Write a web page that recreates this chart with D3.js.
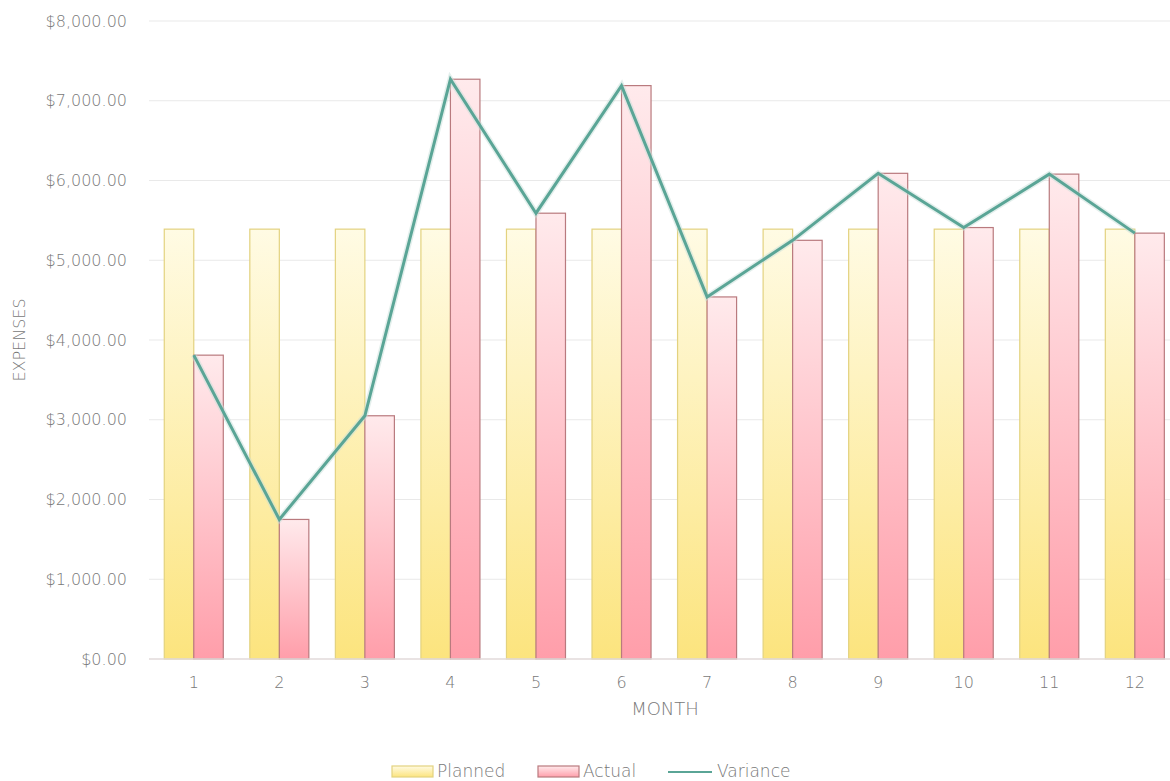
<!DOCTYPE html>
<html>
<head>
<meta charset="utf-8">
<script src="https://cdn.jsdelivr.net/npm/d3@7/dist/d3.min.js"></script>
<style>
  html, body { margin: 0; padding: 0; background: #fff; }
  svg { display: block; }
  text { font-family: "DejaVu Sans", sans-serif; fill: #787878; font-weight: 200; }
</style>
</head>
<body>
<svg id="chart" width="1170" height="781"></svg>
<script>
const months = ["1","2","3","4","5","6","7","8","9","10","11","12"];
const planned = [5390,5390,5390,5390,5390,5390,5390,5390,5390,5390,5390,5390];
const actual = [3810,1750,3050,7270,5590,7190,4540,5250,6090,5410,6080,5340];
const variance = [3810,1750,3050,7270,5590,7190,4540,5250,6090,5410,6080,5340];
const yTicks = [0,1000,2000,3000,4000,5000,6000,7000,8000];
const seriesNames = ["Planned","Actual","Variance"];

const svg = d3.select("#chart");
const defs = svg.append("defs");

function grad(id, top, bottom) {
  const g = defs.append("linearGradient").attr("id", id)
    .attr("x1", 0).attr("y1", 0).attr("x2", 0).attr("y2", 1);
  g.append("stop").attr("offset", "0%").attr("stop-color", top);
  g.append("stop").attr("offset", "100%").attr("stop-color", bottom);
}
grad("gPlanned", "#fffbe4", "#fce47e");
grad("gActual", "#ffeaec", "#ff9eaa");

const plotLeft = 151, plotRight = 1177.6, plotTop = 21, plotBottom = 659;

const x = d3.scaleBand().domain(months).range([plotLeft, plotRight])
  .paddingInner(0.31).paddingOuter(0.155);
const xSub = d3.scaleBand().domain(["Planned","Actual"]).range([0, x.bandwidth()]);
const y = d3.scaleLinear().domain([0, 8000]).range([plotBottom, plotTop]);

// grid lines
svg.append("g").selectAll("line").data(yTicks.slice(1)).join("line")
  .attr("x1", plotLeft - 2).attr("x2", 1170)
  .attr("y1", d => y(d)).attr("y2", d => y(d))
  .attr("stroke", "#e9e9e9").attr("stroke-width", 1.2);

// y axis labels
const fmt = d3.format("$,.2f");
const yAxis = d3.axisLeft(y).tickValues(yTicks).tickFormat(fmt).tickSize(0).tickPadding(0);
const yg = svg.append("g").attr("transform", "translate(127,0)").call(yAxis);
yg.select(".domain").remove();
yg.selectAll("text").style("font-size", "16px").attr("fill", "#787878")
  .style("font-family", "'DejaVu Sans', sans-serif").style("font-weight", 200);

// bars
const groups = svg.append("g").selectAll("g").data(months).join("g")
  .attr("transform", d => `translate(${x(d)},0)`);
groups.append("rect")
  .attr("x", xSub("Planned")).attr("width", xSub.bandwidth())
  .attr("y", (d, i) => y(planned[i])).attr("height", (d, i) => y(0) - y(planned[i]))
  .attr("fill", "url(#gPlanned)").attr("stroke", "#e3d27f").attr("stroke-width", 1.2);
groups.append("rect")
  .attr("x", xSub("Actual")).attr("width", xSub.bandwidth())
  .attr("y", (d, i) => y(actual[i])).attr("height", (d, i) => y(0) - y(actual[i]))
  .attr("fill", "url(#gActual)").attr("stroke", "#b97a7e").attr("stroke-width", 1.2);

// baseline
svg.append("line").attr("x1", plotLeft - 2).attr("x2", 1170)
  .attr("y1", y(0)).attr("y2", y(0)).attr("stroke", "#e2dada").attr("stroke-width", 1.5);

// x axis
const xAxis = d3.axisBottom(x).tickSize(0).tickPadding(0);
const xg = svg.append("g").attr("transform", `translate(0,${y(0) + 18})`).call(xAxis);
xg.select(".domain").remove();
xg.selectAll("text").style("font-size", "16px").attr("fill", "#787878")
  .style("font-family", "'DejaVu Sans', sans-serif").style("font-weight", 200);

// variance line
const line = d3.line().x((d, i) => x(months[i]) + x.bandwidth() / 2).y(d => y(d));
svg.append("path").datum(variance).attr("d", line)
  .attr("fill", "none").attr("stroke", "#c8e0da").attr("stroke-width", 6)
  .attr("stroke-linejoin", "miter").attr("opacity", 0.5);
svg.append("path").datum(variance).attr("d", line)
  .attr("fill", "none").attr("stroke", "#5aa596").attr("stroke-width", 3)
  .attr("stroke-linejoin", "miter");

// axis titles
svg.append("text").attr("x", 665).attr("y", 715)
  .attr("text-anchor", "middle").style("font-size", "18px").text("MONTH");
svg.append("text").attr("transform", `translate(25,${(plotTop + plotBottom) / 2}) rotate(-90)`)
  .attr("text-anchor", "middle").style("font-size", "16px").text("EXPENSES");

// legend
const legend = svg.append("g");
const legItems = [
  {name: seriesNames[0], x: 392, type: "rect", fill: "url(#gPlanned)", stroke: "#e3d27f"},
  {name: seriesNames[1], x: 538, type: "rect", fill: "url(#gActual)", stroke: "#b97a7e"},
  {name: seriesNames[2], x: 668, type: "line", stroke: "#5aa596"}
];
legItems.forEach(it => {
  if (it.type === "rect") {
    legend.append("rect").attr("x", it.x).attr("y", 766).attr("width", 41).attr("height", 11)
      .attr("fill", it.fill).attr("stroke", it.stroke).attr("stroke-width", 1.2);
  } else {
    legend.append("line").attr("x1", it.x).attr("x2", it.x + 44).attr("y1", 772).attr("y2", 772)
      .attr("stroke", it.stroke).attr("stroke-width", 2);
  }
  legend.append("text").attr("x", it.x + (it.type === "rect" ? 45 : 49)).attr("y", 777)
    .style("font-size", "17px").text(it.name);
});
</script>
</body>
</html>
